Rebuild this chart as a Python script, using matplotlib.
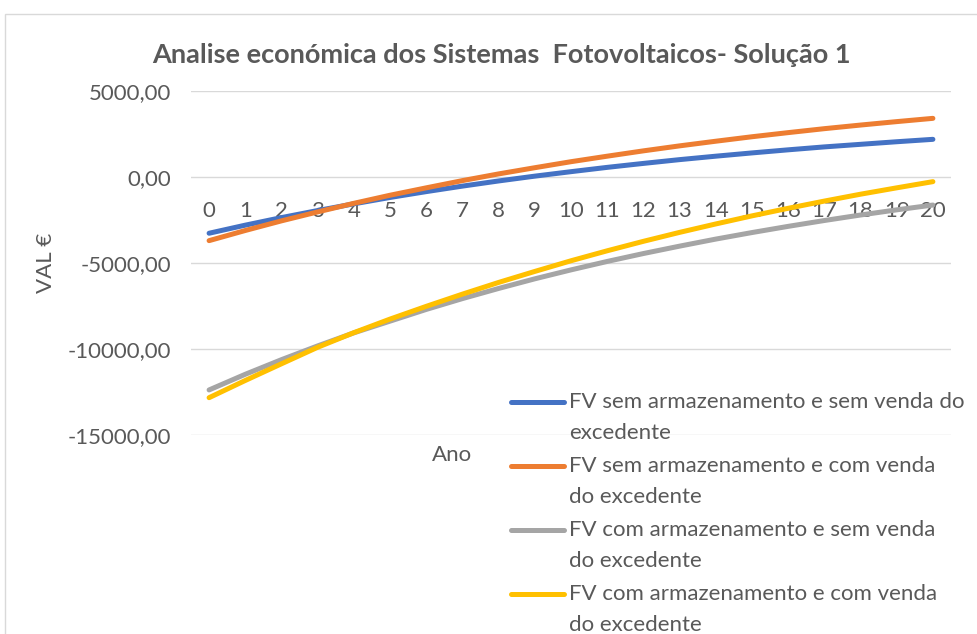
import numpy as np
import matplotlib.pyplot as plt
from matplotlib.patches import Rectangle
from matplotlib.legend_handler import HandlerLine2D

plt.rcParams['font.family'] = ['Lato', 'DejaVu Sans']

# Data (VAL in euros per year)
anos = list(range(21))
sem_arm_sem_venda = [-3270, -2800, -2360, -1950, -1560, -1190, -850, -530, -230, 50,
                     310, 560, 790, 1010, 1210, 1400, 1580, 1750, 1900, 2050, 2190]
sem_arm_com_venda = [-3700, -3110, -2550, -2030, -1530, -1060, -630, -210, 180, 540,
                     890, 1210, 1520, 1810, 2080, 2340, 2580, 2810, 3020, 3220, 3410]
com_arm_sem_venda = [-12380, -11470, -10620, -9820, -9060, -8380, -7700, -7070, -6480, -5920,
                     -5400, -4910, -4450, -4020, -3610, -3230, -2870, -2530, -2210, -1910, -1630]
com_arm_com_venda = [-12830, -11830, -10860, -9900, -9050, -8260, -7520, -6810, -6130, -5490,
                     -4870, -4290, -3740, -3220, -2730, -2260, -1820, -1400, -1000, -630, -270]

series = [
    (sem_arm_sem_venda, '#4472C4', 'FV sem armazenamento e sem venda do\nexcedente'),
    (sem_arm_com_venda, '#ED7D31', 'FV sem armazenamento e com venda\ndo excedente'),
    (com_arm_sem_venda, '#A5A5A5', 'FV com armazenamento e sem venda\ndo excedente'),
    (com_arm_com_venda, '#FFC000', 'FV com armazenamento e com venda\ndo excedente'),
]

txt = '#595959'


# legend handle drawn next to the first line of a two-line label
class FirstLineHandler(HandlerLine2D):
    def create_artists(self, legend, orig_handle, xdescent, ydescent, width, height,
                       fontsize, trans):
        arts = super().create_artists(legend, orig_handle, xdescent, ydescent, width,
                                      height, fontsize, trans)
        for a in arts:
            a.set_ydata(np.asarray(a.get_ydata()) + 11)
        return arts


fig = plt.figure(figsize=(9.77, 6.34), dpi=100)
fig.patches.append(Rectangle((5 / 977, -0.1), 1.1, 1 - 14 / 634 + 0.1, transform=fig.transFigure,
                             fill=False, edgecolor='#D9D9D9', linewidth=1))

ax = fig.add_axes([191 / 977, 1 - 435 / 634, 760 / 977, 344 / 634])
ax.set_facecolor('none')

lines = []
for vals, cor, nome in series:
    ln, = ax.plot(anos, vals, color=cor, linewidth=3.6, solid_capstyle='round', label=nome)
    lines.append(ln)

ax.set_xlim(-0.5, 20.5)
ax.set_ylim(-15000, 5000)
ax.set_yticks([5000, 0, -5000, -10000, -15000])
ax.set_yticklabels(['5000,00', '0,00', '-5000,00', '-10000,00', '-15000,00'])
ax.set_xticks(anos)
ax.grid(axis='y', color='#D9D9D9', linewidth=1)
ax.set_axisbelow(True)
for s in ['top', 'right', 'left']:
    ax.spines[s].set_visible(False)
ax.spines['bottom'].set_position(('data', 0))
ax.spines['bottom'].set_color('none')
ax.tick_params(axis='x', length=0, pad=17, labelsize=16, colors=txt)
ax.tick_params(axis='y', length=0, pad=14, labelsize=16, colors=txt)

fig.text(501 / 977, 1 - 55 / 634, 'Analise económica dos Sistemas  Fotovoltaicos- Solução 1',
         ha='center', va='center', fontsize=19.5, fontweight='bold', color=txt)
fig.text(46 / 977, 1 - 263 / 634, 'VAL €', rotation=90, ha='center', va='center',
         fontsize=16, color=txt)
fig.text(452 / 977, 1 - 455 / 634, 'Ano', ha='center', va='center', fontsize=16, color=txt)

leg = fig.legend(handles=lines, loc='upper left', bbox_to_anchor=(511 / 977, 1 - 392 / 634),
                 frameon=False, fontsize=16, handlelength=2.4, handletextpad=0.2,
                 labelspacing=0.6, borderpad=0, borderaxespad=0,
                 handler_map={l: FirstLineHandler() for l in lines})
for t in leg.get_texts():
    t.set_color(txt)
    t.set_linespacing(1.67)

fig.savefig('out.png', dpi=100)
